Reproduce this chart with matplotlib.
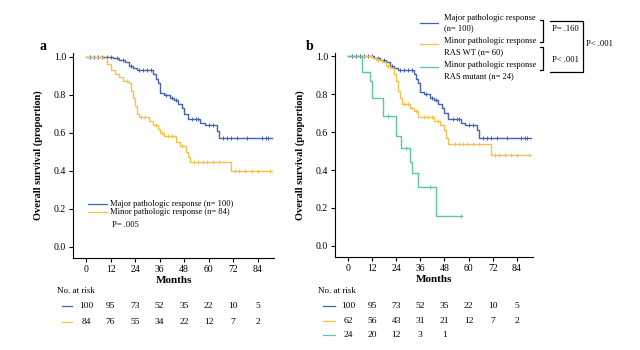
import numpy as np
import matplotlib
matplotlib.use("Agg")
import matplotlib.pyplot as plt
import matplotlib.transforms as mtransforms

plt.rcParams['font.family'] = ['Liberation Serif', 'DejaVu Serif']

BLUE = '#4362b0'
YELLOW = '#f3c24a'
GREEN = '#5fc6a4'

# Kaplan-Meier curves (time in months, survival proportion)
major_t = [0, 13, 16, 19, 21, 23, 25, 33, 34, 35, 36, 38, 41, 43, 45, 47, 48, 50, 56, 58, 64, 65, 91]
major_s = [1.0, 0.99, 0.98, 0.97, 0.95, 0.94, 0.93, 0.91, 0.88, 0.86, 0.81, 0.80, 0.78, 0.77, 0.75, 0.73, 0.70, 0.67, 0.65, 0.64, 0.61, 0.57, 0.57]
major_cens = [2, 4, 6, 8, 10, 12, 15, 18, 22, 26, 28, 30, 32, 39, 42, 44, 52, 54, 55, 60, 62, 67, 69, 71, 74, 79, 86, 88, 89]

minor_t = [0, 8, 10, 12, 14, 16, 18, 21, 22, 23, 24, 25, 26, 31, 33, 35, 36, 38, 44, 46, 49, 50, 51, 71, 91]
minor_s = [1.0, 0.99, 0.96, 0.93, 0.91, 0.89, 0.87, 0.86, 0.82, 0.78, 0.74, 0.70, 0.68, 0.66, 0.64, 0.62, 0.60, 0.58, 0.55, 0.53, 0.50, 0.47, 0.445, 0.40, 0.40]
minor_cens = [20, 27, 29, 34, 37, 40, 42, 47, 53, 55, 57, 59, 62, 65, 73, 75, 78, 81, 84, 90]

wt_t = [0, 12, 14, 17, 19, 21, 23, 24, 25, 26, 27, 31, 33, 35, 43, 46, 48, 49, 50, 71, 91]
wt_s = [1.0, 0.99, 0.98, 0.97, 0.95, 0.94, 0.91, 0.87, 0.82, 0.78, 0.75, 0.73, 0.71, 0.68, 0.66, 0.64, 0.61, 0.57, 0.54, 0.48, 0.48]
wt_cens = [15, 20, 28, 30, 34, 38, 40, 42, 45, 53, 55, 57, 59, 62, 65, 73, 75, 78, 81, 84, 90]

mut_t = [0, 7, 11, 12, 17.5, 23.7, 26.5, 31, 32, 35, 44, 56]
mut_s = [1.0, 0.917, 0.87, 0.78, 0.685, 0.58, 0.515, 0.445, 0.385, 0.31, 0.155, 0.155]
mut_cens = [20, 29, 41, 56]

ticks = [0, 12, 24, 36, 48, 60, 72, 84]
risk_a = {'major': [100, 95, 73, 52, 35, 22, 10, 5], 'minor': [84, 76, 55, 34, 22, 12, 7, 2]}
risk_b = {'major': [100, 95, 73, 52, 35, 22, 10, 5], 'wt': [62, 56, 43, 31, 21, 12, 7, 2], 'mut': [24, 20, 12, 3, 1]}

W, H = 640, 350
fig = plt.figure(figsize=(6.4, 3.5), dpi=100)


def fx(px):
    return px / W


def fy(py):
    return 1 - py / H


def km(ax, t, s, cens, color):
    ax.step(t, s, where='post', color=color, lw=1.0)
    idx = np.searchsorted(t, cens, side='right') - 1
    ax.plot(cens, np.array(s)[idx], ls='none', marker='+', ms=3, mew=0.7, color=color)


def style(ax):
    ax.set_xlim(-6.4, 92)
    ax.set_ylim(-0.058, 1.02)
    ax.set_xticks(ticks)
    ax.set_yticks([0.0, 0.2, 0.4, 0.6, 0.8, 1.0])
    ax.set_yticklabels(['0.0', '0.2', '0.4', '0.6', '0.8', '1.0'])
    for sp in ['top', 'right']:
        ax.spines[sp].set_visible(False)
    ax.tick_params(labelsize=7, length=3, width=0.8, pad=2)
    ax.set_xlabel('Months', fontsize=8, fontweight='bold', labelpad=1.5)
    ax.set_ylabel('Overall survival (proportion)', fontsize=7.5, fontweight='bold')
    ax.yaxis.set_label_coords(-0.15, 0.5)


def risk_table(ax, rows, colors, xdash, ys):
    tr = mtransforms.blended_transform_factory(ax.transData, fig.transFigure)
    fig.text(fx(xdash[0] - 5), fy(291), 'No. at risk', fontsize=6.5, va='center')
    for vals, c, y in zip(rows, colors, ys):
        fig.add_artist(plt.Line2D([fx(xdash[0]), fx(xdash[1])], [fy(y), fy(y)], color=c, lw=0.9))
        for t, v in zip(ticks, vals):
            ax.text(t, fy(y), str(v), transform=tr, fontsize=6.8, ha='center', va='center')


# panel a
ax1 = fig.add_axes([fx(73), fy(257.7), fx(201), 205 / H])
km(ax1, major_t, major_s, major_cens, BLUE)
km(ax1, minor_t, minor_s, minor_cens, YELLOW)
style(ax1)
fig.text(fx(43), fy(47), 'a', fontsize=10, fontweight='bold', va='center', ha='center')
for y, c, lab in [(204, BLUE, 'Major pathologic response (n= 100)'),
                  (212, YELLOW, 'Minor pathologic response (n= 84)')]:
    fig.add_artist(plt.Line2D([fx(88), fx(107)], [fy(y), fy(y)], color=c, lw=0.9))
    fig.text(fx(110), fy(y), lab, fontsize=6.1, va='center')
fig.text(fx(112), fy(225), 'P= .005', fontsize=6.1, va='center')
risk_table(ax1, [risk_a['major'], risk_a['minor']], [BLUE, YELLOW], (62, 72), [306, 322])

# panel b
ax2 = fig.add_axes([fx(335), fy(256.7), fx(198), 204 / H])
km(ax2, major_t, major_s, major_cens, BLUE)
km(ax2, wt_t, wt_s, wt_cens, YELLOW)
km(ax2, mut_t, mut_s, mut_cens, GREEN)
style(ax2)
fig.text(fx(310), fy(47), 'b', fontsize=10, fontweight='bold', va='center', ha='center')

leg_lines = [(23, BLUE), (44, YELLOW), (67, GREEN)]
for y, c in leg_lines:
    fig.add_artist(plt.Line2D([fx(420), fx(438)], [fy(y), fy(y)], color=c, lw=0.9))
leg_text = [(18, 'Major pathologic response'), (28, '(n= 100)'),
            (41, 'Minor pathologic response'), (52, 'RAS WT (n= 60)'),
            (65, 'Minor pathologic response'), (76, 'RAS mutant (n= 24)')]
for y, s in leg_text:
    fig.text(fx(444), fy(y), s, fontsize=6.1, va='center')

# brackets with p-values
def seg(xs, ys, lw=0.9):
    fig.add_artist(plt.Line2D([fx(x) for x in xs], [fy(y) for y in ys], color='black', lw=lw))

seg([540, 543, 543, 540], [20, 20, 42, 42])
seg([540, 543, 543, 540], [47, 47, 70, 70])
seg([550, 583, 583, 550], [21, 21, 72, 72])
fig.text(fx(552), fy(29), 'P= .160', fontsize=6.1, va='center')
fig.text(fx(552), fy(60), 'P< .001', fontsize=6.1, va='center')
fig.text(fx(586), fy(44), 'P< .001', fontsize=6.1, va='center')

risk_table(ax2, [risk_b['major'], risk_b['wt'], risk_b['mut']], [BLUE, YELLOW, GREEN],
           (323, 335), [306, 321, 335])

fig.savefig('out.png', dpi=100)
